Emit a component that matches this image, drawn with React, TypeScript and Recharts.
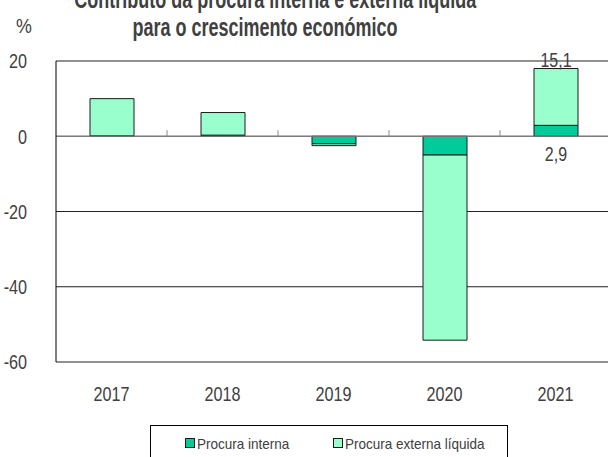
import React from 'react';
import { BarChart, Bar, XAxis, YAxis, CartesianGrid, ReferenceLine, LabelList } from 'recharts';

const years = ['2017', '2018', '2019', '2020', '2021'];
const procuraInterna = [0.1, 0.3, -2.0, -5.0, 2.9];
const procuraExterna = [9.9, 6.0, -0.5, -49.2, 15.1];
const labelledYears = ['2021'];
const yTicks = [-60, -40, -20, 0, 20];
const separatorYears = ['2017', '2018', '2019', '2020'];

const fmt = (v: number) => v.toFixed(1).replace('.', ',');

const data = years.map((y, i) => ({
  year: y,
  interna: procuraInterna[i],
  externa: procuraExterna[i],
  labelInt: labelledYears.includes(y) ? fmt(procuraInterna[i]) : undefined,
  labelExt: labelledYears.includes(y) ? fmt(procuraExterna[i]) : undefined,
}));

const FONT = '"Liberation Sans", Arial, sans-serif';
const DARK = '#00CC99';
const LIGHT = '#99FFCC';
const TEXT = '#404040';

function NarrowText(props: any) {
  const { x, y, anchor = 'middle', dy = 0, size = 21, sx = 0.77, children } = props;
  return (
    <text
      transform={`translate(${x},${y}) scale(${sx},1)`}
      x={0}
      y={0}
      dy={dy}
      textAnchor={anchor}
      fontSize={size}
      fontFamily={FONT}
      fill={TEXT}
    >
      {children}
    </text>
  );
}

const XTick = (p: any) => (
  <NarrowText x={p.x} y={p.y} dy="0.71em" anchor="middle">{p.payload.value}</NarrowText>
);
const YTick = (p: any) => (
  <NarrowText x={p.x} y={p.y} dy="0.355em" anchor="end">{p.payload.value}</NarrowText>
);

const TopLabel = (p: any) => {
  if (p.value === undefined || p.value === null) return null;
  return (
    <NarrowText x={p.x + p.width / 2} y={p.y - 2} size={20} sx={0.8} anchor="middle">{p.value}</NarrowText>
  );
};
const BelowLabel = (p: any) => {
  if (p.value === undefined || p.value === null) return null;
  return (
    <NarrowText x={p.x + p.width / 2} y={p.y + p.height + 25} size={20} sx={0.8} anchor="middle">{p.value}</NarrowText>
  );
};

export default function App() {
  return (
    <div style={{ position: 'absolute', left: 0, top: 0, width: 608, height: 457, overflow: 'hidden', background: '#fff', fontFamily: FONT }}>
      <div
        style={{
          position: 'absolute',
          left: 0,
          width: 530,
          top: -15,
          textAlign: 'center',
          fontWeight: 'bold',
          fontSize: 25,
          lineHeight: '28px',
          color: TEXT,
          transform: 'scaleX(0.72)',
          transformOrigin: '265px 0',
          whiteSpace: 'nowrap',
        }}
      >
        Contributo da procura interna e externa líquida<br />para o crescimento económico
      </div>
      <div style={{ position: 'absolute', left: 16, top: 14, fontSize: 21, lineHeight: '24px', color: TEXT, transform: 'scaleX(0.85)', transformOrigin: '0 0' }}>%</div>
      <BarChart
        width={611}
        height={457}
        data={data}
        stackOffset="sign"
        margin={{ top: 61, right: 0, left: 0, bottom: 0 }}
        barSize={44}
      >
        <CartesianGrid horizontal vertical={false} stroke="#222" strokeDasharray="" />
        <YAxis
          width={56}
          domain={[-60, 20]}
          ticks={yTicks}
          interval={0}
          axisLine={{ stroke: '#000' }}
          tickLine={false}
          tickMargin={23}
          tick={<YTick />}
        />
        <XAxis
          dataKey="year"
          height={95}
          axisLine={false}
          tickLine={false}
          tickMargin={18}
          tick={<XTick />}
        />
        <Bar dataKey="interna" stackId="a" fill={DARK} stroke="#1a1a1a" strokeWidth={1} isAnimationActive={false}>
          <LabelList dataKey="labelInt" content={<BelowLabel />} />
        </Bar>
        <Bar dataKey="externa" stackId="a" fill={LIGHT} stroke="#1a1a1a" strokeWidth={1} isAnimationActive={false}>
          <LabelList dataKey="labelExt" content={<TopLabel />} />
        </Bar>
        <ReferenceLine y={0} stroke="#888" strokeWidth={1} />
        {separatorYears.map((y) => (
          <ReferenceLine
            key={y}
            segment={[{ x: y, y: 0 }, { x: y, y: 1.6 }]}
            position="end"
            stroke="#888"
            strokeWidth={1}
          />
        ))}
      </BarChart>
      <div style={{ position: 'absolute', left: 150, top: 425, width: 358, height: 50, border: '1px solid #000', boxSizing: 'border-box', background: '#fff' }}>
        <div style={{ position: 'absolute', left: 34, top: 12, width: 10, height: 10, boxSizing: 'border-box', background: DARK, border: '1px solid #1a1a1a' }} />
        <div style={{ position: 'absolute', left: 46, top: 9, fontSize: 15, lineHeight: '18px', color: TEXT, whiteSpace: 'nowrap', transform: 'scaleX(0.9)', transformOrigin: '0 0' }}>Procura interna</div>
        <div style={{ position: 'absolute', left: 182, top: 12, width: 10, height: 10, boxSizing: 'border-box', background: LIGHT, border: '1px solid #1a1a1a' }} />
        <div style={{ position: 'absolute', left: 194, top: 9, fontSize: 15, lineHeight: '18px', color: TEXT, whiteSpace: 'nowrap', transform: 'scaleX(0.9)', transformOrigin: '0 0' }}>Procura externa líquida</div>
      </div>
    </div>
  );
}
